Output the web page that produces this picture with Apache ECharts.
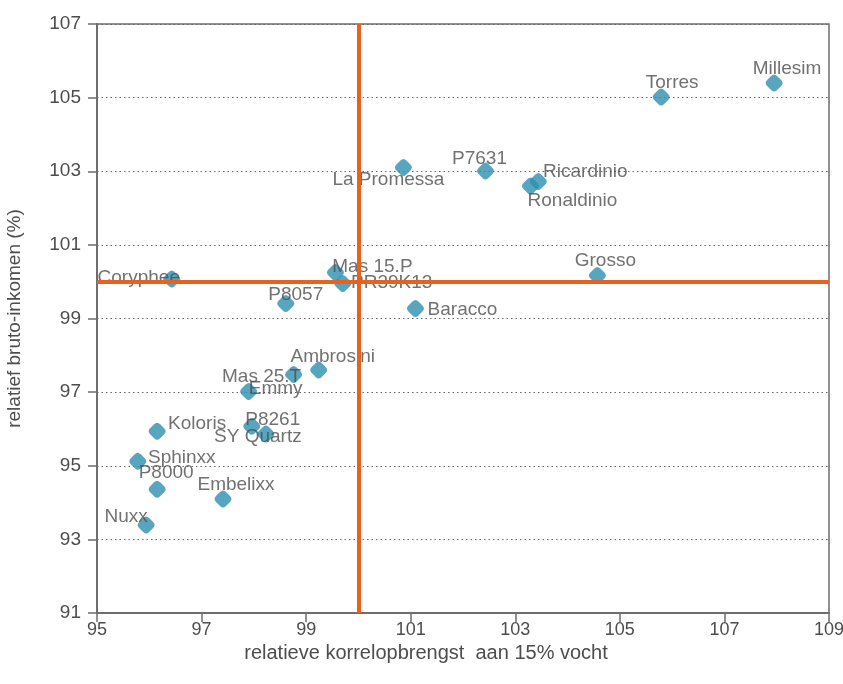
<!DOCTYPE html>
<html>
<head>
<meta charset="utf-8">
<script src="https://cdn.jsdelivr.net/npm/echarts@6/dist/echarts.min.js"></script>
<style>
html,body{margin:0;padding:0;background:#fff;}
#chart{width:843px;height:684px;}
</style>
</head>
<body>
<div id="chart"></div>
<script>
// ---- data ----
var varieties = ["Millesim","Torres","La Promessa","P7631","Ricardinio","Ronaldinio","Grosso","Mas 15.P","PR39K13","Baracco","Coryphee","P8057","Ambrosini","Mas 25.T","Emmy","P8261","SY Quartz","Koloris","Sphinxx","P8000","Embelixx","Nuxx"];
var yieldRel  = [107.95,105.79,100.86,102.43,103.44,103.29,104.57,99.56,99.70,101.09,96.43,98.61,99.24,98.76,97.90,97.96,98.23,96.15,95.78,96.15,97.41,95.94];
var incomeRel = [105.40,105.02,103.10,103.01,102.72,102.60,100.17,100.25,99.95,99.27,100.07,99.41,97.60,97.48,97.02,96.07,95.86,95.94,95.12,94.36,94.10,93.39];
var xTicks = [95,97,99,101,103,105,107,109];
var yTicks = [91,93,95,97,99,101,103,105,107];
var refX = 100, refY = 100;

// label offsets (styling, px from marker centre to label centre)
var labelOffsets = [[13,-17],[11,-17],[-15,9],[-6,-15],[47,-13],[42,12],[8,-18],[37,-9],[49,-4],[47,-2],[-33,-4],[10,-12],[14,-16],[-32,-1],[27,-6],[21,-10],[-8,0],[40,-10],[44,-7],[9,-20],[13,-17],[-20,-11]];
var labelShiftY = 3;

var FONT = "'Liberation Sans', Arial, sans-serif";
var TXT = '#4d4d4d';
var AX = '#6e6e6e';
var ORANGE = '#e8621e';
var TEAL = '#2e8eb0';
var diamond = 'path://M13 3 L17 7 Q20 10 17 13 L13 17 Q10 20 7 17 L3 13 Q0 10 3 7 L7 3 Q10 0 13 3 Z';

var pts = varieties.map(function(n,i){
  return { name: n, value: [yieldRel[i], incomeRel[i]] };
});

var chart = echarts.init(document.getElementById('chart'), null, {renderer:'canvas'});
chart.setOption({
  animation: false,
  backgroundColor: '#fff',
  grid: { left: 97, right: 14, top: 24, bottom: 71, outerBoundsMode: 'none', containLabel: false, show: true, borderColor: AX, borderWidth: 1.5, backgroundColor: 'transparent' },
  xAxis: {
    type: 'value', min: xTicks[0], max: xTicks[xTicks.length-1], interval: 2,
    name: 'relatieve korrelopbrengst  aan 15% vocht', nameLocation: 'middle', nameGap: 22,
    nameTextStyle: { color: TXT, fontFamily: FONT, fontSize: 20, padding: [0, 74, 0, 0] },
    axisLine: { show: true, lineStyle: { color: AX, width: 2 } },
    axisTick: { show: true, length: 9, lineStyle: { color: AX, width: 1.5 } },
    axisLabel: { color: TXT, fontFamily: FONT, fontSize: 18, margin: 8 },
    splitLine: { show: false }
  },
  yAxis: {
    type: 'value', min: yTicks[0], max: yTicks[yTicks.length-1], interval: 2,
    name: 'relatief bruto-inkomen (%)', nameLocation: 'middle', nameGap: 73,
    nameTextStyle: { color: TXT, fontFamily: FONT, fontSize: 19 },
    axisLine: { show: true, lineStyle: { color: AX, width: 2 } },
    axisTick: { show: true, length: 9, lineStyle: { color: AX, width: 1.5 } },
    axisLabel: { color: TXT, fontFamily: FONT, fontSize: 19, margin: 16 },
    splitLine: { show: true, lineStyle: { color: '#666', width: 1, type: [1.5,3] } }
  },
  series: [
    {
      type: 'line', data: [], z: 1, silent: true,
      markLine: {
        silent: true, symbol: ['none','none'], label: { show: false },
        lineStyle: { color: ORANGE, width: 4, type: 'solid' },
        data: [ { xAxis: refX }, { yAxis: refY } ]
      }
    },
    {
      type: 'scatter', z: 3,
      symbol: diamond, symbolSize: 17, symbolKeepAspect: true,
      itemStyle: { color: TEAL },
      label: {
        show: true, position: 'inside', formatter: '{b}',
        color: TXT, fontFamily: FONT, fontSize: 19
      },
      labelLayout: function (p) {
        var o = labelOffsets[p.dataIndex];
        return { dx: o[0], dy: o[1] + labelShiftY, hideOverlap: false };
      },
      data: pts
    }
  ]
});
</script>
</body>
</html>
